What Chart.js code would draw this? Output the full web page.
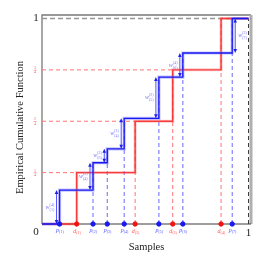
<!DOCTYPE html>
<html>
<head>
<meta charset="utf-8">
<script src="https://cdn.jsdelivr.net/npm/chart.js@4"></script>
<style>
  html, body { margin: 0; padding: 0; background: #fff; }
  #wrap { width: 267px; height: 267px; }
</style>
</head>
<body>
<div id="wrap"><canvas id="ecdf"></canvas></div>
<script>
// samples p (blue, weighted) and d (red, uniform)
const pSamples = [0.085, 0.247, 0.316, 0.398, 0.566, 0.682, 0.921];
const pLevels = [0.165, 0.298, 0.366, 0.514, 0.715, 0.832, 1];
const pNames = ['(1)', '(2)', '(3)', '(4)', '(5)', '(6)', '(7)'];
const wSup = ['(4)', '(2)', '(3)', '(2)', '(2)', '(4)', '(2)'];
const wSub = ['(1)', '(4)', '(6)', '(4)', '(5)', '(6)', '(7)'];

const dSamples = [0.168, 0.451, 0.633, 0.867];
const dLevels = [0.25, 0.5, 0.75, 1];
const dNames = ['(1)', '(2)', '(3)', '(4)'];
const yFracs = [['1', '4'], ['2', '4'], ['3', '4']];

const BLUE = 'rgb(25,25,240)';
const BLUE_LIGHT = 'rgba(120,120,255,0.45)';
const BLUE_DASH = 'rgb(105,105,255)';
const RED = 'rgba(245,35,35,0.85)';
const RED_LIGHT = 'rgba(255,120,120,0.4)';
const RED_DASH = 'rgb(255,115,115)';

// step curves
let bluePts = [{x: 0, y: 0}];
pSamples.forEach((v, i) => bluePts.push({x: v, y: pLevels[i]}));
bluePts.push({x: 1, y: 1});
let redPts = [{x: 0, y: 0}];
dSamples.forEach((v, i) => redPts.push({x: v, y: dLevels[i]}));
redPts.push({x: 1, y: 1});

function seg(pts, color, dash, width) {
  return {
    type: 'line', data: pts, borderColor: color, borderWidth: width || 1,
    borderDash: dash, pointRadius: 0, fill: false, clip: false
  };
}

let datasets = [];
// markers on top
datasets.push({
  type: 'scatter', data: pSamples.map(v => ({x: v, y: 0})),
  backgroundColor: BLUE, borderColor: BLUE, pointRadius: 2.2, clip: false
});
datasets.push({
  type: 'scatter', data: dSamples.map(v => ({x: v, y: 0})),
  backgroundColor: 'rgb(240,20,20)', borderColor: 'rgb(240,20,20)', pointRadius: 2.2, clip: false
});
datasets.push({
  type: 'line', data: bluePts, stepped: 'before', borderColor: BLUE,
  borderWidth: 1.3, pointRadius: 0, fill: false, clip: false
});
datasets.push({
  type: 'line', data: bluePts, stepped: 'before', borderColor: BLUE_LIGHT,
  borderWidth: 3.2, pointRadius: 0, fill: false, clip: false
});
datasets.push({
  type: 'line', data: redPts, stepped: 'before', borderColor: RED,
  borderWidth: 1.4, pointRadius: 0, fill: false, clip: false
});
datasets.push({
  type: 'line', data: redPts, stepped: 'before', borderColor: RED_LIGHT,
  borderWidth: 3, pointRadius: 0, fill: false, clip: false
});
// dashed guides
pSamples.forEach((v, i) => {
  if (i > 0) datasets.push(seg([{x: v, y: 0}, {x: v, y: pLevels[i]}], BLUE_DASH, [4, 3]));
});
dSamples.forEach((v, i) => {
  if (i > 0) datasets.push(seg([{x: v, y: 0}, {x: v, y: dLevels[i]}], RED_DASH, [4, 3]));
  if (i < dSamples.length - 1) datasets.push(seg([{x: 0, y: dLevels[i]}, {x: v, y: dLevels[i]}], RED_DASH, [4, 3]));
});
datasets.push(seg([{x: 0, y: 1}, {x: 1.012, y: 1}], 'rgb(150,150,150)', [5, 3], 1.3));
datasets.push(seg([{x: 1, y: 0}, {x: 1, y: 1}], 'rgb(60,60,60)', [4, 3]));

const frame = {
  id: 'frame',
  beforeDatasetsDraw(chart) {
    const {ctx, chartArea: a} = chart;
    ctx.save();
    ctx.strokeStyle = 'rgb(120,120,120)';
    ctx.lineWidth = 1.3;
    ctx.beginPath();
    ctx.moveTo(a.left, a.bottom); ctx.lineTo(a.left, a.top); ctx.lineTo(a.right, a.top);
    ctx.stroke();
    ctx.strokeStyle = 'rgb(175,175,175)';
    ctx.lineWidth = 3;
    ctx.beginPath();
    ctx.moveTo(a.right, a.top); ctx.lineTo(a.right, a.bottom);
    ctx.stroke();
    ctx.strokeStyle = 'rgb(60,60,60)';
    ctx.lineWidth = 1.2;
    ctx.beginPath();
    ctx.moveTo(a.left, a.bottom); ctx.lineTo(a.right, a.bottom);
    ctx.stroke();
    ctx.restore();
  },
  afterDatasetsDraw(chart) {
    const {ctx, chartArea: a, scales: {x, y}} = chart;
    ctx.save();
    // weight arrows
    pSamples.forEach((v, i) => {
      const last = i === pSamples.length - 1;
      const ax = x.getPixelForValue(v) + (last ? 3 : -3);
      const y0 = y.getPixelForValue(i ? pLevels[i - 1] : 0);
      const y1 = y.getPixelForValue(pLevels[i]);
      ctx.strokeStyle = 'rgb(80,80,255)';
      ctx.fillStyle = 'rgb(30,30,240)';
      ctx.lineWidth = 1;
      ctx.beginPath(); ctx.moveTo(ax, y0 - 3); ctx.lineTo(ax, y1 + 3); ctx.stroke();
      ctx.beginPath(); ctx.moveTo(ax, y1); ctx.lineTo(ax - 1.8, y1 + 4); ctx.lineTo(ax + 1.8, y1 + 4); ctx.fill();
      ctx.beginPath(); ctx.moveTo(ax, y0); ctx.lineTo(ax - 1.8, y0 - 4); ctx.lineTo(ax + 1.8, y0 - 4); ctx.fill();
      // label
      const mid = (y0 + y1) / 2;
      const lx = last ? ax + 3 : ax - 11;
      ctx.fillStyle = 'rgb(120,120,255)';
      ctx.textBaseline = 'middle';
      ctx.textAlign = 'left';
      ctx.font = 'italic 6px "Liberation Serif"';
      ctx.fillText('w', lx, mid);
      ctx.font = '4px "Liberation Serif"';
      ctx.fillText(wSup[i], lx + 4, mid - 2.5);
      ctx.fillText(wSub[i], lx + 4, mid + 2.5);
    });
    // bottom tick labels
    ctx.textBaseline = 'middle';
    pSamples.forEach((v, i) => {
      const px = x.getPixelForValue(v);
      ctx.fillStyle = 'rgb(90,90,255)';
      ctx.textAlign = 'right';
      ctx.font = 'italic 6px "Liberation Serif"';
      ctx.fillText('p', px - 0.5, a.bottom + 6);
      ctx.textAlign = 'left';
      ctx.font = '4px "Liberation Serif"';
      ctx.fillText(pNames[i], px - 0.5, a.bottom + 7.5);
    });
    dSamples.forEach((v, i) => {
      const px = x.getPixelForValue(v);
      ctx.fillStyle = 'rgb(255,90,90)';
      ctx.textAlign = 'right';
      ctx.font = 'italic 6px "Liberation Serif"';
      ctx.fillText('d', px - 0.5, a.bottom + 7);
      ctx.textAlign = 'left';
      ctx.font = '4px "Liberation Serif"';
      ctx.fillText(dNames[i], px - 0.5, a.bottom + 8.5);
    });
    // y fractions
    yFracs.forEach((f, i) => {
      const py = y.getPixelForValue(dLevels[i]);
      ctx.fillStyle = 'rgb(255,90,90)';
      ctx.textAlign = 'center';
      ctx.font = '4px "Liberation Serif"';
      ctx.fillText(f[0], a.left - 7, py - 2);
      ctx.fillText(f[1], a.left - 7, py + 2.5);
      ctx.fillRect(a.left - 8.5, py, 3, 0.5);
    });
    // 0 / 1 labels and titles
    ctx.fillStyle = '#222';
    ctx.font = '11px "Liberation Serif"';
    ctx.textAlign = 'center';
    ctx.fillText('0', a.left - 6, a.bottom + 8);
    ctx.fillText('1', a.left - 6, y.getPixelForValue(1));
    ctx.fillText('1', x.getPixelForValue(1), a.bottom + 9);
    ctx.font = '10.5px "Liberation Serif"';
    ctx.fillText('Samples', (a.left + a.right) / 2, a.bottom + 23);
    ctx.translate(20, (a.top + a.bottom) / 2 + 8);
    ctx.rotate(-Math.PI / 2);
    ctx.fillText('Empirical Cumulative Function', 0, 0);
    ctx.restore();
  }
};

new Chart(document.getElementById('ecdf'), {
  type: 'line',
  data: { datasets: datasets },
  options: {
    responsive: true,
    maintainAspectRatio: false,
    animation: false,
    layout: { padding: { left: 42, right: 16, top: 15, bottom: 43 } },
    plugins: { legend: { display: false }, tooltip: { enabled: false } },
    scales: {
      x: { type: 'linear', min: 0, max: 1.012, display: false },
      y: { type: 'linear', min: 0, max: 1.017, display: false }
    }
  },
  plugins: [frame]
});
</script>
</body>
</html>
